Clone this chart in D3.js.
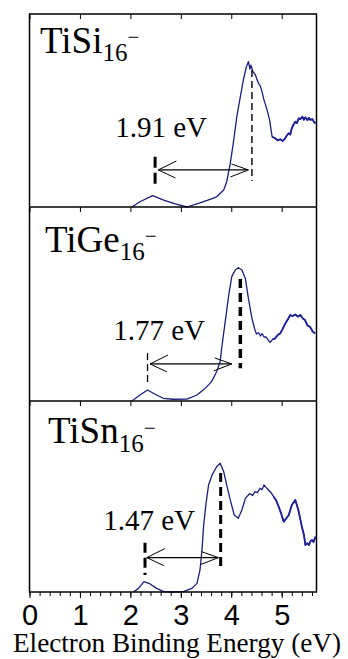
<!DOCTYPE html>
<html>
<head>
<meta charset="utf-8">
<script src="https://cdn.jsdelivr.net/npm/d3@7"></script>
<style>
  html, body { margin: 0; padding: 0; background: #fff; }
  svg { display: block; }
</style>
</head>
<body>
<svg id="chart" width="348" height="659"></svg>
<script>
// values: [binding energy (eV), relative intensity]
const compounds = ["TiSi", "TiGe", "TiSn"];
const gapLabels = ["1.91 eV", "1.77 eV", "1.47 eV"];
const xTicks = [0, 1, 2, 3, 4, 5];

const tiSi16 = [
  [2.03, 0.0], [2.19, 0.027], [2.44, 0.059], [2.66, 0.036], [2.89, 0.016], [3.12, 0.0],
  [3.35, 0.019], [3.58, 0.040], [3.71, 0.053], [3.85, 0.088], [3.91, 0.131], [3.98, 0.226],
  [4.04, 0.330], [4.11, 0.468], [4.18, 0.572], [4.24, 0.658], [4.30, 0.727], [4.34, 0.753],
  [4.37, 0.715], [4.39, 0.735], [4.43, 0.701], [4.48, 0.684], [4.51, 0.66], [4.54, 0.641],
  [4.58, 0.625], [4.61, 0.597], [4.65, 0.554], [4.71, 0.503], [4.76, 0.451], [4.81, 0.364],
  [4.87, 0.356], [4.92, 0.345], [4.97, 0.351], [5.02, 0.342], [5.07, 0.356], [5.10, 0.37],
  [5.14, 0.382], [5.17, 0.375], [5.20, 0.408], [5.24, 0.43], [5.27, 0.442], [5.30, 0.435],
  [5.34, 0.46], [5.37, 0.455], [5.41, 0.468], [5.44, 0.452], [5.47, 0.465], [5.51, 0.45],
  [5.54, 0.462], [5.57, 0.451], [5.61, 0.455], [5.64, 0.44], [5.67, 0.434]
];
const tiGe16 = [
  [2.03, 0.0], [2.19, 0.031], [2.34, 0.057], [2.49, 0.035], [2.65, 0.014], [2.85, 0.009],
  [3.12, 0.010], [3.32, 0.031], [3.48, 0.065], [3.61, 0.100], [3.71, 0.151], [3.78, 0.203],
  [3.81, 0.272], [3.88, 0.409], [3.95, 0.546], [4.01, 0.641], [4.08, 0.675], [4.14, 0.687],
  [4.21, 0.675], [4.28, 0.632], [4.34, 0.529], [4.41, 0.426], [4.47, 0.366], [4.50, 0.345],
  [4.54, 0.352], [4.58, 0.335], [4.61, 0.348], [4.65, 0.33], [4.69, 0.331], [4.73, 0.315],
  [4.77, 0.302], [4.82, 0.318], [4.87, 0.323], [4.92, 0.34], [4.97, 0.348], [5.02, 0.372],
  [5.07, 0.399], [5.12, 0.42], [5.17, 0.443], [5.22, 0.438], [5.27, 0.446], [5.32, 0.435],
  [5.37, 0.443], [5.42, 0.425], [5.46, 0.418], [5.51, 0.39], [5.56, 0.383], [5.61, 0.36],
  [5.66, 0.348]
];
const tiSn16 = [
  [2.06, 0.0], [2.16, 0.019], [2.27, 0.054], [2.39, 0.042], [2.52, 0.019], [2.66, 0.002],
  [2.85, 0.0], [3.05, 0.002], [3.22, 0.019], [3.32, 0.045], [3.38, 0.115], [3.42, 0.220],
  [3.45, 0.342], [3.50, 0.464], [3.55, 0.560], [3.62, 0.613], [3.71, 0.656], [3.78, 0.674],
  [3.85, 0.630], [3.91, 0.560], [3.98, 0.482], [4.06, 0.403], [4.14, 0.386], [4.21, 0.429],
  [4.28, 0.490], [4.33, 0.505], [4.37, 0.516], [4.42, 0.505], [4.47, 0.525], [4.52, 0.52],
  [4.57, 0.543], [4.61, 0.535], [4.65, 0.560], [4.69, 0.548], [4.74, 0.534], [4.79, 0.52],
  [4.84, 0.499], [4.89, 0.48], [4.94, 0.447], [4.99, 0.41], [5.04, 0.368], [5.09, 0.385],
  [5.14, 0.403], [5.20, 0.455], [5.27, 0.482], [5.33, 0.429], [5.40, 0.342], [5.44, 0.30],
  [5.47, 0.246], [5.51, 0.255], [5.54, 0.246], [5.57, 0.265], [5.60, 0.272], [5.63, 0.262],
  [5.67, 0.290]
];
const spectra = [tiSi16, tiGe16, tiSn16];

// dashed markers: [energy, from, to] (intensity units)
const onsetMarks = [[2.49, 0.098, 0.261], [2.34, 0.082, 0.247], [2.29, 0.089, 0.258]];
const peakMarks = [[4.41, 0.135, 0.71], [4.18, 0.169, 0.629], [3.79, 0.126, 0.623]];
// double arrows: [start energy, end energy, height]
const gapArrows = [[2.555, 4.34, 0.192], [2.39, 4.01, 0.191], [2.325, 3.745, 0.18]];

// layout
const left = 29.5, right = 316.5;
const panelTops = [14, 207, 401];
const panelBottoms = [207, 401, 592];
const nameStyle = [{x: 40, y: 52.7}, {x: 45, y: 251.7}, {x: 48, y: 443.3}];
const gapTextX = [1.70, 1.66, 1.46];
const gapTextY = [136.7, 340, 530];
const onsetStyle = [{w: 3, dash: "11,5"}, {w: 1.3, dash: "7,4"}, {w: 3, dash: "10,5"}];
const peakStyle = [{w: 1.4, dash: "7,4"}, {w: 3.5, dash: "9,5"}, {w: 3, dash: "9,5"}];

const svg = d3.select("#chart");
const x = d3.scaleLinear().domain([0, 5.69]).range([left, right]);
const serif = "'Liberation Serif', 'Times New Roman', serif";

spectra.forEach((data, i) => {
  const y = d3.scaleLinear().domain([0, 1]).range([panelBottoms[i], panelTops[i]]);
  const g = svg.append("g");

  // ticks along the top edge of each panel, pointing in
  const top = g.append("g").attr("transform", `translate(0,${panelTops[i]})`);
  top.call(d3.axisBottom(x).tickValues(d3.range(0, 5.7, 0.2)).tickSize(3).tickFormat(""));
  top.call(d3.axisBottom(x).tickValues(xTicks).tickSize(5).tickFormat(""));
  top.selectAll(".domain").remove();
  top.selectAll("line").attr("stroke", "#000");

  const line = d3.line().x(d => x(d[0])).y(d => y(d[1]));
  g.append("path").datum(data)
    .attr("fill", "none")
    .attr("stroke", "#1e1e7a")
    .attr("stroke-width", 1.3)
    .attr("stroke-linejoin", "round")
    .attr("d", line);
  // the noisy tail is drawn heavier and bluer in the original
  g.append("path").datum(data.filter(d => d[0] >= 4.8))
    .attr("fill", "none")
    .attr("stroke", "#20209a")
    .attr("stroke-width", 1.8)
    .attr("stroke-linejoin", "round")
    .attr("d", line);

  const on = onsetMarks[i], pk = peakMarks[i];
  g.append("line")
    .attr("x1", x(on[0])).attr("x2", x(on[0]))
    .attr("y1", y(on[2])).attr("y2", y(on[1]))
    .attr("stroke", "#000").attr("stroke-width", onsetStyle[i].w)
    .attr("stroke-dasharray", onsetStyle[i].dash);
  g.append("line")
    .attr("x1", x(pk[0])).attr("x2", x(pk[0]))
    .attr("y1", y(pk[2])).attr("y2", y(pk[1]))
    .attr("stroke", "#000").attr("stroke-width", peakStyle[i].w)
    .attr("stroke-dasharray", peakStyle[i].dash);

  const a = gapArrows[i];
  const ax1 = x(a[0]), ax2 = x(a[1]), ay = y(a[2]);
  g.append("line")
    .attr("x1", ax1).attr("x2", ax2).attr("y1", ay).attr("y2", ay)
    .attr("stroke", "#000").attr("stroke-width", 1.3);
  g.append("path")
    .attr("d", `M${ax1 + 18},${ay - 9}L${ax1},${ay}L${ax1 + 17},${ay + 8}`)
    .attr("fill", "none").attr("stroke", "#000").attr("stroke-width", 1);
  g.append("path")
    .attr("d", `M${ax2 - 17},${ay - 6}L${ax2},${ay}L${ax2 - 18},${ay + 7}`)
    .attr("fill", "none").attr("stroke", "#000").attr("stroke-width", 1);

  g.append("text")
    .attr("x", x(gapTextX[i])).attr("y", gapTextY[i])
    .attr("font-family", serif).attr("font-size", 29)
    .text(gapLabels[i]);

  const t = g.append("text")
    .attr("x", nameStyle[i].x).attr("y", nameStyle[i].y)
    .attr("font-family", serif).attr("font-size", 37);
  t.append("tspan").text(compounds[i]);
  t.append("tspan").attr("font-size", 25).attr("dy", 8.3).text("16");
  t.append("tspan").attr("font-size", 21).attr("dy", -17).text("\u2212");
});

// frame and panel dividers
svg.append("rect")
  .attr("x", left).attr("y", panelTops[0])
  .attr("width", right - left).attr("height", panelBottoms[2] - panelTops[0])
  .attr("fill", "none").attr("stroke", "#000").attr("stroke-width", 1.5);
panelTops.slice(1).forEach(yy => {
  svg.append("line").attr("x1", left).attr("x2", right).attr("y1", yy).attr("y2", yy)
    .attr("stroke", "#000").attr("stroke-width", 1.5);
});

// bottom axis
const xAxis = svg.append("g").attr("transform", `translate(0,${panelBottoms[2]})`);
xAxis.call(d3.axisBottom(x).tickValues(d3.range(0, 5.7, 0.2)).tickSize(4).tickFormat(""));
const major = svg.append("g").attr("transform", `translate(0,${panelBottoms[2]})`);
major.call(d3.axisBottom(x).tickValues(xTicks).tickSize(6).tickFormat(d3.format("d")));
svg.selectAll(".domain").remove();
svg.selectAll(".tick line").attr("stroke", "#000");
major.selectAll("text")
  .attr("y", 33).attr("dy", 0)
  .attr("fill", "#000")
  .attr("font-family", "'Liberation Sans', Arial, sans-serif")
  .attr("font-size", 29);

svg.append("text")
  .attr("x", 177).attr("y", 652)
  .attr("text-anchor", "middle")
  .attr("font-family", serif).attr("font-size", 27)
  .attr("textLength", 328).attr("lengthAdjust", "spacingAndGlyphs")
  .text("Electron Binding Energy (eV)");
</script>
</body>
</html>
